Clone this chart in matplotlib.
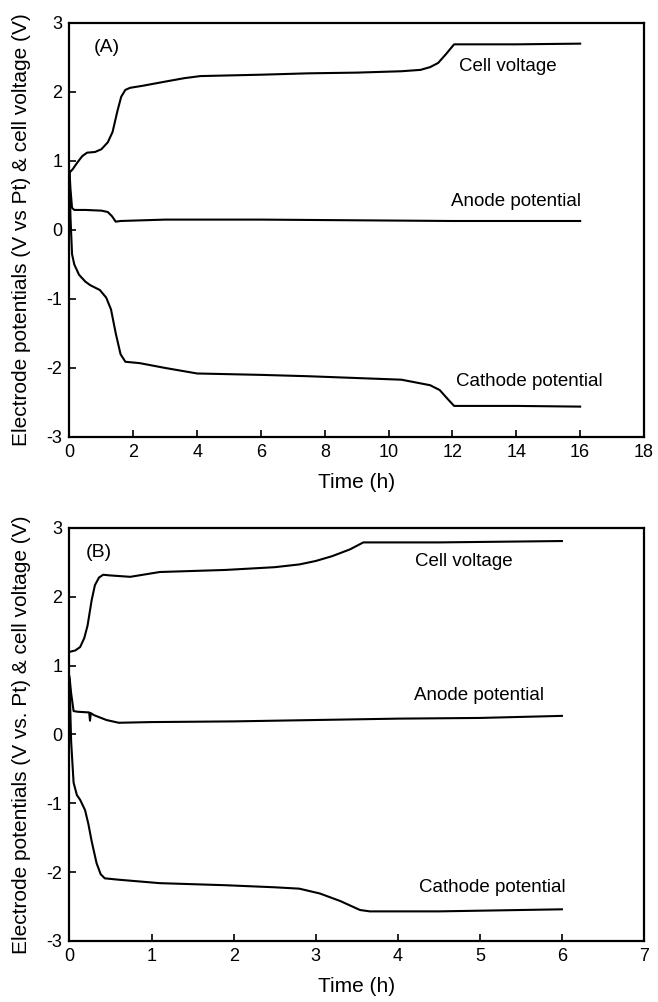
import matplotlib
matplotlib.use('Agg')
from matplotlib import pyplot as plt
from matplotlib.ticker import FormatStrFormatter

plt.rcParams['font.family'] = ['Liberation Sans', 'DejaVu Sans']
plt.rcParams['axes.unicode_minus'] = False

# panel A: long run (0-16 h)
a_cell_t = [0, 0.1, 0.25, 0.4, 0.55, 0.8, 1.0, 1.2, 1.35, 1.5, 1.62, 1.75, 1.9, 2.3,
            3.0, 3.6, 4.1, 6.0, 7.5, 9.0, 10.4, 11.0, 11.3, 11.55, 11.8, 12.05, 14.0, 16.0]
a_cell_v = [0.83, 0.88, 0.98, 1.07, 1.12, 1.13, 1.17, 1.27, 1.42, 1.72, 1.93, 2.03, 2.06, 2.09,
            2.15, 2.20, 2.23, 2.25, 2.27, 2.28, 2.30, 2.32, 2.36, 2.42, 2.55, 2.69, 2.69, 2.70]
a_anode_t = [0, 0.03, 0.08, 0.15, 0.5, 1.0, 1.2, 1.33, 1.45, 1.6, 3, 6, 9, 12, 16]
a_anode_v = [0.85, 0.6, 0.32, 0.29, 0.29, 0.28, 0.26, 0.2, 0.12, 0.13, 0.15, 0.15, 0.14, 0.13, 0.13]
a_cath_t = [0, 0.03, 0.08, 0.15, 0.3, 0.5, 0.65, 0.95, 1.15, 1.3, 1.45, 1.6, 1.75, 2.2,
            3.0, 4.0, 6.0, 7.5, 10.4, 11.3, 11.6, 11.85, 12.05, 14, 16]
a_cath_v = [0.85, 0.2, -0.35, -0.5, -0.65, -0.75, -0.8, -0.87, -0.98, -1.15, -1.5, -1.8, -1.91, -1.93,
            -2.0, -2.08, -2.1, -2.12, -2.17, -2.25, -2.32, -2.45, -2.55, -2.55, -2.56]

# panel B: short run (0-6 h)
b_cell_t = [0, 0.07, 0.13, 0.18, 0.22, 0.27, 0.31, 0.36, 0.41, 0.5, 0.74, 1.1, 1.9, 2.5,
            2.8, 3.0, 3.2, 3.42, 3.58, 4.5, 6.0]
b_cell_v = [1.20, 1.22, 1.27, 1.40, 1.58, 1.95, 2.17, 2.28, 2.32, 2.31, 2.29, 2.36, 2.39, 2.43,
            2.47, 2.52, 2.59, 2.69, 2.79, 2.79, 2.81]
b_anode_t = [0, 0.02, 0.05, 0.1, 0.24, 0.25, 0.26, 0.3, 0.45, 0.6, 1.0, 2.0, 3.0, 4.0, 5.0, 6.0]
b_anode_v = [0.84, 0.6, 0.34, 0.33, 0.32, 0.2, 0.31, 0.28, 0.21, 0.17, 0.18, 0.19, 0.21, 0.23, 0.24, 0.27]
b_cath_t = [0, 0.02, 0.05, 0.09, 0.13, 0.19, 0.23, 0.27, 0.33, 0.38, 0.43, 0.6, 1.1, 1.9,
            2.5, 2.8, 3.05, 3.3, 3.54, 3.66, 4.5, 6.0]
b_cath_v = [0.8, -0.1, -0.7, -0.88, -0.95, -1.1, -1.3, -1.55, -1.87, -2.03, -2.09, -2.11, -2.16, -2.19,
            -2.22, -2.24, -2.31, -2.42, -2.55, -2.57, -2.57, -2.54]

labels = ['Cell voltage', 'Anode potential', 'Cathode potential']

fig = plt.figure(figsize=(6.58, 10.02), dpi=100)
ax1 = fig.add_axes([0.1056, 0.5639, 0.8731, 0.4132])
ax2 = fig.add_axes([0.1056, 0.0609, 0.8731, 0.4122])

def style(ax, xmax, ylabel):
    ax.set_xlim(0, xmax)
    ax.set_ylim(-3, 3)
    ax.set_xticks(range(0, xmax + 1, 2 if xmax > 10 else 1))
    ax.set_yticks(range(-3, 4))
    ax.yaxis.set_major_formatter(FormatStrFormatter('%d'))
    ax.tick_params(direction='in', length=5, width=1.2, labelsize=13, pad=5,
                   top=False, right=False)
    for s in ax.spines.values():
        s.set_linewidth(1.6)
    ax.set_xlabel('Time (h)', fontsize=15, labelpad=9)
    ax.set_ylabel(ylabel, fontsize=15, labelpad=11)

ax1.plot(a_cell_t, a_cell_v, 'k-', lw=1.5)
ax1.plot(a_anode_t, a_anode_v, 'k-', lw=1.5)
ax1.plot(a_cath_t, a_cath_v, 'k-', lw=1.5)
style(ax1, 18, 'Electrode potentials (V vs Pt) & cell voltage (V)')
ax1.text(0.75, 2.65, '(A)', fontsize=14, va='center')
ax1.text(12.2, 2.37, labels[0], fontsize=13.5, va='center')
ax1.text(11.95, 0.41, labels[1], fontsize=13.5, va='center')
ax1.text(12.1, -2.2, labels[2], fontsize=13.5, va='center')

ax2.plot(b_cell_t, b_cell_v, 'k-', lw=1.5)
ax2.plot(b_anode_t, b_anode_v, 'k-', lw=1.5)
ax2.plot(b_cath_t, b_cath_v, 'k-', lw=1.5)
style(ax2, 7, 'Electrode potentials (V vs. Pt) & cell voltage (V)')
ax2.text(0.2, 2.64, '(B)', fontsize=14, va='center')
ax2.text(4.21, 2.51, labels[0], fontsize=13.5, va='center')
ax2.text(4.2, 0.57, labels[1], fontsize=13.5, va='center')
ax2.text(4.26, -2.23, labels[2], fontsize=13.5, va='center')

fig.savefig('out.png', dpi=100)
